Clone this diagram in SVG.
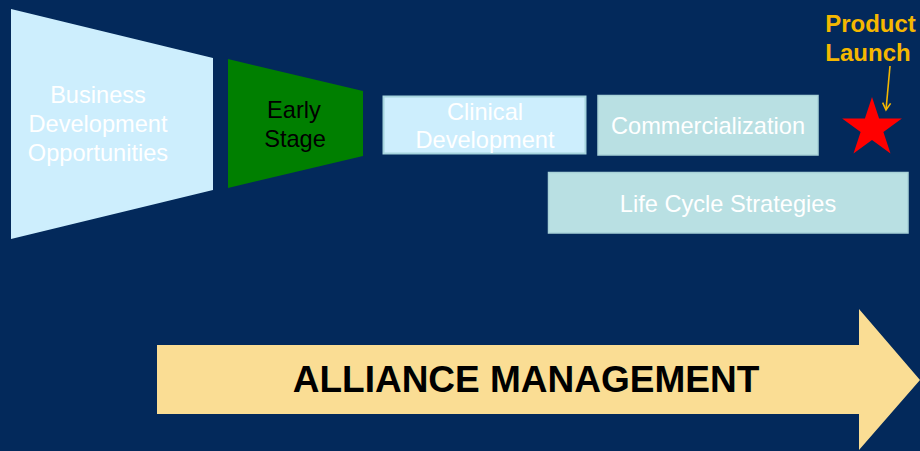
<svg xmlns="http://www.w3.org/2000/svg" width="920" height="451" viewBox="0 0 920 451">
  <defs>
    <style>
      .lbl { font-family: "Liberation Sans", Arial, sans-serif; font-size: 23.6px; text-anchor: middle; }
      .white { fill: #ffffff; }
      .dark { fill: #000000; }
      .pale { fill: #cdeefd; }
      .teal { fill: #b9e0e3; stroke: #a9d2d8; stroke-width: 1.5; }
      .launch { font-family: "Liberation Sans", Arial, sans-serif; font-size: 24px; font-weight: bold; fill: #f5b700; text-anchor: middle; }
    </style>
    <marker id="openHead" markerWidth="10" markerHeight="10" refX="8" refY="5" orient="auto" markerUnits="userSpaceOnUse">
      <path d="M1,1 L8,5 L1,9" fill="none" stroke="#f5b700" stroke-width="1.6"/>
    </marker>
  </defs>

  <!-- background -->
  <rect width="920" height="451" fill="#03295b"/>

  <!-- funnel stage: business development -->
  <g id="business-development">
    <polygon class="pale" points="11,9 213,58 213,190 11,239"/>
    <text class="lbl white" x="98" y="103">Business</text>
    <text class="lbl white" x="98" y="132">Development</text>
    <text class="lbl white" x="98" y="161">Opportunities</text>
  </g>

  <!-- funnel stage: early stage -->
  <g id="early-stage">
    <polygon points="228,59 363,91 363,156 228,188" fill="#007f00"/>
    <text class="lbl dark" x="294" y="118">Early</text>
    <text class="lbl dark" x="295" y="147">Stage</text>
  </g>

  <!-- clinical development -->
  <g id="clinical-development">
    <rect x="383.5" y="96.5" width="202" height="57" fill="#cdeefd" stroke="#a6d4dd" stroke-width="2"/>
    <text class="lbl white" x="485" y="120">Clinical</text>
    <text class="lbl white" x="485" y="148">Development</text>
  </g>

  <!-- commercialization -->
  <g id="commercialization">
    <rect class="teal" x="598" y="95.5" width="220" height="59.5"/>
    <text class="lbl white" x="708" y="134">Commercialization</text>
  </g>

  <!-- life cycle strategies -->
  <g id="life-cycle-strategies">
    <rect class="teal" x="548.5" y="172.5" width="359.5" height="60.5"/>
    <text class="lbl white" x="728" y="212">Life Cycle Strategies</text>
  </g>

  <!-- launch milestone -->
  <g id="product-launch">
    <text class="launch" x="870.5" y="32">Product</text>
    <text class="launch" x="868" y="61">Launch</text>
    <polygon fill="#ff0000" points="872,97 879.1,118.6 901.9,118.6 883.4,131.9 890.5,153.4 872,140.1 853.5,153.4 860.6,131.9 842.1,118.6 864.9,118.6"/>
  </g>

  <!-- connectors -->
  <g id="connectors">
    <line x1="890" y1="66" x2="886" y2="110" stroke="#f5b700" stroke-width="1.6" marker-end="url(#openHead)"/>
  </g>

  <!-- alliance management band -->
  <g id="alliance-management">
    <polygon fill="#fadd94" points="157,345 859,345 859,309 920,380 859,450 859,414 157,414"/>
    <text x="526" y="392" font-family="'Liberation Sans', Arial, sans-serif" font-size="37" font-weight="bold" fill="#000000" text-anchor="middle">ALLIANCE MANAGEMENT</text>
  </g>
</svg>
